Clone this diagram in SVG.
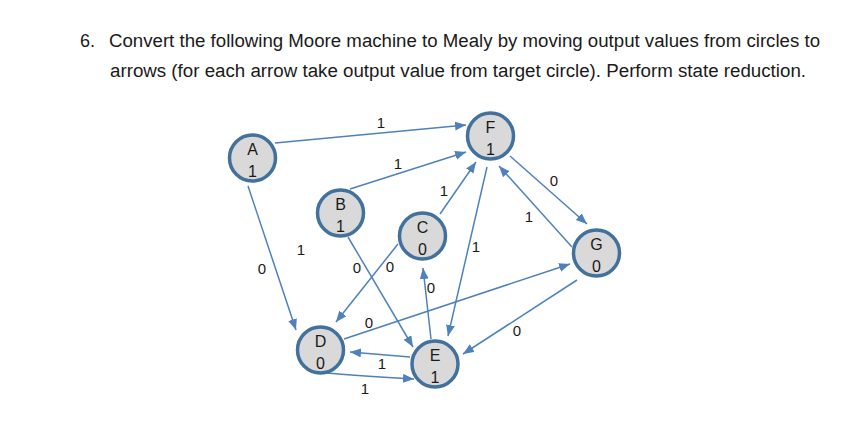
<svg xmlns="http://www.w3.org/2000/svg" width="865" height="442" viewBox="0 0 865 442">
<style>
.title{font-family:"Liberation Sans",Arial,sans-serif;font-size:18px;fill:#1a1a1a}
.node circle{fill:#D9D9D9;stroke:#41719C;stroke-width:3.5}
.node text{font-family:"Liberation Sans",Arial,sans-serif;font-size:16px;fill:#1a1a1a;text-anchor:middle}
.lbl{font-family:"Liberation Sans",Arial,sans-serif;font-size:15px;fill:#1a1a1a;text-anchor:middle}
.edges line,.edges path{stroke:#4F81BD;stroke-width:1.5;fill:none;marker-end:url(#ah)}
</style>
<defs>
<marker id="ah" markerUnits="userSpaceOnUse" markerWidth="12" markerHeight="10" refX="11" refY="4.5" orient="auto">
<path d="M0,0 L11,4.5 L0,9 z" fill="#4F81BD"/>
</marker>
</defs>
<rect width="865" height="442" fill="#ffffff"/>
<text class="title" x="80" y="47">6.</text>
<text class="title" x="109" y="47" textLength="711" lengthAdjust="spacingAndGlyphs">Convert the following Moore machine to Mealy by moving output values from circles to</text>
<text class="title" x="110" y="77" textLength="696" lengthAdjust="spacingAndGlyphs">arrows (for each arrow take output value from target circle). Perform state reduction.</text>
<g class="edges" id="connectors">
<line x1="275" y1="143" x2="466" y2="125"/>
<line x1="248" y1="186" x2="296" y2="330"/>
<line x1="350" y1="189" x2="466" y2="152"/>
<line x1="440" y1="214" x2="476" y2="162"/>
<line x1="487" y1="167" x2="448" y2="336"/>
<line x1="510" y1="156" x2="587" y2="224"/>
<line x1="572" y1="247" x2="499" y2="166"/>
<line x1="348" y1="237" x2="413" y2="347"/>
<line x1="398" y1="244" x2="336" y2="322"/>
<line x1="431" y1="339" x2="423" y2="268"/>
<line x1="344" y1="339" x2="570" y2="264"/>
<line x1="577" y1="280" x2="463" y2="354"/>
<line x1="410" y1="357" x2="350" y2="352"/>
<path d="M327,373 Q360,376 414,379"/>
</g>
<g id="labels">
<text class="lbl" x="381" y="128">1</text>
<text class="lbl" x="262" y="274">0</text>
<text class="lbl" x="398" y="169">1</text>
<text class="lbl" x="444" y="196">1</text>
<text class="lbl" x="476" y="252">1</text>
<text class="lbl" x="554" y="186">0</text>
<text class="lbl" x="529" y="222">1</text>
<text class="lbl" x="357" y="273">0</text>
<text class="lbl" x="390" y="272">0</text>
<text class="lbl" x="431" y="293">0</text>
<text class="lbl" x="369" y="328">0</text>
<text class="lbl" x="517" y="336">0</text>
<text class="lbl" x="382" y="369">1</text>
<text class="lbl" x="365" y="394">1</text>
<text class="lbl" x="301" y="255">1</text>
</g>
<g class="node" id="A"><circle cx="252.5" cy="158" r="23"/><text x="252.5" y="155">A</text><text x="252.5" y="177">1</text></g>
<g class="node" id="B"><circle cx="340.5" cy="213" r="23"/><text x="340.5" y="210">B</text><text x="340.5" y="232">1</text></g>
<g class="node" id="C"><circle cx="422.5" cy="236" r="23"/><text x="422.5" y="233">C</text><text x="422.5" y="255">0</text></g>
<g class="node" id="D"><circle cx="320.5" cy="350" r="23"/><text x="320.5" y="347">D</text><text x="320.5" y="369">0</text></g>
<g class="node" id="E"><circle cx="435" cy="364" r="23"/><text x="435" y="361">E</text><text x="435" y="383">1</text></g>
<g class="node" id="F"><circle cx="490.5" cy="136" r="23"/><text x="490.5" y="133">F</text><text x="490.5" y="155">1</text></g>
<g class="node" id="G"><circle cx="596.5" cy="253" r="23"/><text x="596.5" y="250">G</text><text x="596.5" y="272">0</text></g>
</svg>
